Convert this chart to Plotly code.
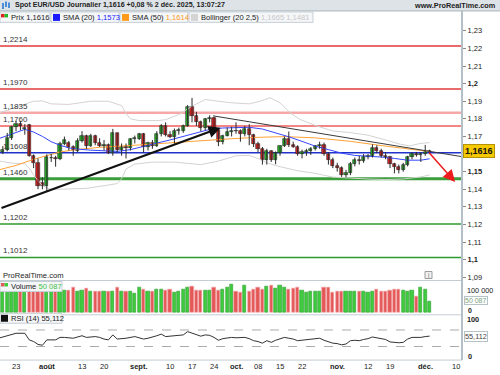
import plotly.graph_objects as go
import pandas as pd

# ---------------- data ----------------
opens = [1.1612,1.1626,1.1693,1.1752,1.1772,1.1745,1.1765,1.1588,1.1548,1.1435,
         1.1418,1.1575,1.1578,1.1572,1.1660,1.1665,1.1638,1.1620,1.1675,1.1705,
         1.1648,1.1703,1.1662,1.1648,1.1649,1.1607,1.1719,1.1622,1.1640,1.1632,
         1.1683,1.1686,1.1713,1.1642,1.1661,1.1648,1.1717,1.1761,1.1709,1.1696,
         1.1732,1.1733,1.1762,1.1868,1.1815,1.1785,1.1746,1.1801,1.1808,1.1736,
         1.1666,1.1702,1.1725,1.1734,1.1729,1.1716,1.1740,1.1710,1.1658,1.1628,
         1.1564,1.1617,1.1569,1.1608,1.1646,1.1688,1.1652,1.1643,1.1602,1.1610,
         1.1619,1.1630,1.1644,1.1652,1.1603,1.1566,1.1535,1.1520,1.1483,1.1492,
         1.1545,1.1565,1.1560,1.1581,1.1590,1.1633,1.1620,1.1592,1.1582,1.1542,
         1.1527,1.1512,1.1540,1.1583,1.1602,1.1597,1.1602,1.1610]
highs = [1.1645,1.1720,1.1760,1.1788,1.1789,1.1770,1.1771,1.1598,1.1575,1.1467,
         1.1598,1.1600,1.1590,1.1670,1.1699,1.1675,1.1650,1.1690,1.1730,1.1710,
         1.1715,1.1710,1.1690,1.1680,1.1660,1.1743,1.1720,1.1660,1.1660,1.1690,
         1.1705,1.1720,1.1720,1.1670,1.1680,1.1730,1.1770,1.1780,1.1730,1.1745,
         1.1750,1.1767,1.1878,1.1919,1.1840,1.1790,1.1805,1.1820,1.1812,1.1745,
         1.1710,1.1750,1.1755,1.1780,1.1740,1.1760,1.1770,1.1715,1.1670,1.1640,
         1.1630,1.1620,1.1615,1.1650,1.1700,1.1728,1.1670,1.1650,1.1625,1.1630,
         1.1640,1.1650,1.1670,1.1665,1.1610,1.1580,1.1550,1.1530,1.1510,1.1555,
         1.1580,1.1590,1.1600,1.1600,1.1655,1.1650,1.1630,1.1610,1.1590,1.1550,
         1.1540,1.1550,1.1590,1.1610,1.1612,1.1610,1.1652,1.1625]
lows = [1.1600,1.1615,1.1680,1.1730,1.1735,1.1710,1.1585,1.1520,1.1400,1.1400,
        1.1391,1.1555,1.1528,1.1565,1.1650,1.1620,1.1590,1.1610,1.1665,1.1630,
        1.1640,1.1650,1.1640,1.1620,1.1600,1.1590,1.1610,1.1590,1.1575,1.1620,
        1.1660,1.1680,1.1608,1.1620,1.1630,1.1640,1.1700,1.1700,1.1690,1.1660,
        1.1710,1.1720,1.1755,1.1780,1.1760,1.1730,1.1735,1.1780,1.1720,1.1645,
        1.1655,1.1700,1.1700,1.1715,1.1670,1.1700,1.1650,1.1640,1.1610,1.1540,
        1.1540,1.1555,1.1542,1.1590,1.1640,1.1640,1.1635,1.1590,1.1575,1.1590,
        1.1595,1.1620,1.1630,1.1590,1.1540,1.1520,1.1500,1.1470,1.1468,1.1480,
        1.1530,1.1540,1.1550,1.1570,1.1580,1.1605,1.1580,1.1570,1.1520,1.1490,
        1.1490,1.1500,1.1530,1.1570,1.1585,1.1555,1.1590,1.1600]
closes = [1.1626,1.1693,1.1752,1.1772,1.1760,1.1750,1.1590,1.1550,1.1420,1.1418,
          1.1582,1.1580,1.1572,1.1660,1.1680,1.1640,1.1622,1.1675,1.1705,1.1648,
          1.1703,1.1662,1.1648,1.1652,1.1607,1.1719,1.1622,1.1640,1.1632,1.1683,
          1.1690,1.1713,1.1642,1.1661,1.1648,1.1717,1.1761,1.1709,1.1696,1.1732,
          1.1736,1.1762,1.1868,1.1815,1.1785,1.1746,1.1801,1.1808,1.1736,1.1666,
          1.1702,1.1725,1.1734,1.1729,1.1716,1.1740,1.1710,1.1658,1.1628,1.1564,
          1.1617,1.1569,1.1608,1.1646,1.1688,1.1652,1.1643,1.1602,1.1610,1.1619,
          1.1630,1.1644,1.1652,1.1603,1.1566,1.1535,1.1520,1.1483,1.1492,1.1545,
          1.1565,1.1560,1.1581,1.1590,1.1633,1.1620,1.1592,1.1582,1.1542,1.1527,
          1.1512,1.1540,1.1583,1.1602,1.1597,1.1602,1.1610,1.1616]
volumes = [97000,94000,97000,109000,100000,94000,97000,100000,97000,100000,
           94000,113000,105000,108000,105000,102000,115000,100000,105000,110000,
           97000,100000,98000,100000,100000,100000,116000,100000,100000,97000,
           89000,117000,109000,100000,100000,109000,109000,105000,109000,94000,
           97000,109000,117000,120000,105000,102000,105000,102000,117000,105000,
           109000,117000,131000,100000,94000,125000,100000,109000,116000,109000,
           120000,125000,113000,125000,117000,109000,113000,117000,105000,94000,
           100000,100000,100000,117000,117000,94000,97000,100000,100000,97000,
           100000,100000,97000,94000,100000,109000,97000,100000,105000,109000,
           108000,105000,100000,102000,74000,117000,109000,50087]

sma20_k = [-3.64,0,2,4,6,8,10,12,14,17,20,23,26,29,32,35,38,41,44,47,50,53,56,59,62,65,68,71,74,77,80,83,86,89,92,94]
sma20_v = [1.1690,1.1725,1.1740,1.1725,1.1700,1.1670,1.1650,1.1635,1.1628,1.1622,1.1618,1.1615,1.1625,1.1645,
           1.1662,1.1680,1.1700,1.1720,1.1740,1.1748,1.1752,1.1752,1.1742,1.1722,1.1698,1.1672,1.1645,1.1625,
           1.1605,1.1592,1.1588,1.1583,1.1575,1.1565,1.1565,1.1573]
sma50_k = [-3.64,0,4,8,10,14,19,27,34,42,49,55,61,68,76,84,90,94]
sma50_v = [1.1512,1.1535,1.1570,1.1600,1.1612,1.1626,1.1638,1.1650,1.1663,1.1676,1.1687,1.1695,1.1699,
           1.1692,1.1672,1.1645,1.1624,1.1614]
bb_up_k = [-3.64,0,2,4,6,8,12,17,21,24,25,26,28,32,34,37,40,43,46,49,53,55.5,57.7,60,62.3,64.5,68.4,72,76,80,83.4,87.3,89.5,91.8,94]
bb_up_v = [1.1835,1.1865,1.1880,1.1900,1.1902,1.1885,1.1882,1.1900,1.1900,1.1875,1.1830,1.1800,1.1790,1.1790,
           1.1795,1.1825,1.1872,1.1910,1.1900,1.1891,1.1885,1.1900,1.1920,1.1891,1.1835,1.1797,1.1759,1.1731,
           1.1722,1.1707,1.1684,1.1656,1.1646,1.1660,1.1665]
bb_lo_k = [-3.64,-1,2,3,4,6,8,12,16,20,23,24,25,27,31,36,39,42,46,50,53,55,57,60,64,68,72,76,80,84,88,92,94]
bb_lo_v = [1.1560,1.1548,1.1545,1.1520,1.1480,1.1420,1.1398,1.1400,1.1405,1.1420,1.1432,1.1460,1.1515,1.1543,
           1.1554,1.1554,1.1545,1.1540,1.1560,1.1590,1.1592,1.1575,1.1550,1.1528,1.1505,1.1490,1.1469,1.1462,
           1.1458,1.1455,1.1458,1.1470,1.1481]
rsi_k = [-3.64,-1,0,2,3,4,5,6,7,9,10,11,13,15,16,18,19,20,21,22,23,25,27,29,30,32,33,34,36,38,39,40,41,42,43,44,45,
         46,47,48,49,50,52,53,54,55,56,57,58,59,60,61,62,63,64,65,66,67,68,69,70,71,72,73,74,75,76,77,78,79,80,81,
         82,83,84,85,86,87,88,89,90,91,92,93,94]
rsi_v = [51,58,62,62,46,42,35,33,46,46,52,52,50,56,52,54,52,48,46,58,48,50,54,48,50,56,60,54,56,58,66,62,58,55,58,57,52,
         45,49,51,52,51,52,49,44,42,38,44,40,45,48,52,50,48,44,45,46,47,49,50,45,41,38,37,34,36,44,45,44,47,49,53,
         51,48,47,41,40,39,40,48,52,52,52,54,55.112]

level_vals = [1.2214, 1.1970, 1.1835, 1.1760, 1.1608, 1.1460, 1.1202, 1.1012]
level_labels = ['1,2214', '1,1970', '1,1835', '1,1760', '1,1608', '1,1460', '1,1202', '1,1012']
level_colors = ['#e23a3a', '#e23a3a', '#f6a8a8', '#ef5c5c', '#2233cc', '#3a9e3a', '#2f9a2f', '#2f9a2f']
level_widths = [1.5, 1.5, 2.5, 1.5, 1.5, 3, 1.5, 1.5]

trend_up_k = [-3.64, 46.5]
trend_up_p = [1.1290, 1.1750]
trend_down_k = [44.8, 101.36]
trend_down_p = [1.1817, 1.1585]
target_k = [93.6, 99.8]
target_p = [1.1616, 1.1441]

price_ticks = [1.09,1.10,1.11,1.12,1.13,1.14,1.15,1.16,1.17,1.18,1.19,1.20,1.21,1.22,1.23]
price_tick_text = ['1,09','<b>1,1</b>','1,11','1,12','1,13','1,14','<b>1,15</b>','','1,17','1,18','1,19',
                   '<b>1,2</b>','1,21','1,22','1,23']

tick_dates = ['2025-07-23','2025-08-01','2025-08-13','2025-08-20','2025-09-01','2025-09-10','2025-09-17',
              '2025-09-24','2025-10-01','2025-10-08','2025-10-15','2025-10-22','2025-11-03','2025-11-12',
              '2025-11-19','2025-12-01','2025-12-10']
tick_labels = ['23','<b>août</b>','13','20','<b>sept.</b>','10','17','24','<b>oct.</b>','08','15','22',
               '<b>nov.</b>','12','19','<b>déc.</b>','10']

# ---------------- derived positions ----------------
bdays = pd.bdate_range('2025-07-18', '2025-12-12')
k_of = {d.strftime('%Y-%m-%d'): i - 3 for i, d in enumerate(bdays)}
days = [k_of[d.strftime('%Y-%m-%d')] for d in bdays[:len(closes)]]
tick_k = [k_of[d] for d in tick_dates]

FONT = 'Liberation Sans, Arial, sans-serif'
W, H = 500, 375
def px(x): return x / W
def py(y): return 1 - y / H
XR = 462 / W

up = [c >= o for o, c in zip(opens, closes)]
body_base = [min(o, c) for o, c in zip(opens, closes)]
body_h = [max(abs(c - o), 0.00006) for o, c in zip(opens, closes)]
body_col = ['#27b827' if u else '#e52222' for u in up]

wx, wy = [], []
for k, lo, hi in zip(days, lows, highs):
    wx += [k, k, None]
    wy += [lo, hi, None]

fig = go.Figure()

# bollinger + SMAs
fig.add_trace(go.Scatter(x=bb_up_k, y=bb_up_v, mode='lines', line=dict(color='#d2d2d2', width=1), yaxis='y', xaxis='x'))
fig.add_trace(go.Scatter(x=bb_lo_k, y=bb_lo_v, mode='lines', line=dict(color='#d2d2d2', width=1), yaxis='y', xaxis='x'))
fig.add_trace(go.Scatter(x=sma50_k, y=sma50_v, mode='lines', line=dict(color='#ffa238', width=1), yaxis='y', xaxis='x'))
fig.add_trace(go.Scatter(x=sma20_k, y=sma20_v, mode='lines', line=dict(color='#3646ff', width=1), yaxis='y', xaxis='x'))

# candles
fig.add_trace(go.Scatter(x=wx, y=wy, mode='lines', line=dict(color='#2a2a2a', width=1), yaxis='y', xaxis='x'))
fig.add_trace(go.Bar(x=days, y=body_h, base=body_base, width=0.72,
                     marker=dict(color=body_col, line=dict(color='#222222', width=0.6)), yaxis='y', xaxis='x'))

# volume
vol_col = ['#3fcc3f' if u else '#e45858' for u in up]
vol_line = ['#2c9a2c' if u else '#f0a0a0' for u in up]
fig.add_trace(go.Bar(x=days, y=volumes, width=0.72,
                     marker=dict(color=vol_col, line=dict(color=vol_line, width=0.6)), yaxis='y2', xaxis='x'))

# RSI
fig.add_trace(go.Scatter(x=rsi_k, y=rsi_v, mode='lines', line=dict(color='#333333', width=1), yaxis='y3', xaxis='x'))

shapes = []
# title bar
shapes.append(dict(type='rect', xref='paper', yref='paper', x0=0, x1=1, y0=py(11), y1=1,
                   fillcolor='#dde3e7', line=dict(width=0), layer='below'))
shapes.append(dict(type='line', xref='paper', yref='paper', x0=0, x1=1, y0=py(11), y1=py(11),
                   line=dict(color='#a9b4bc', width=1)))
# levels
for v, c, w in zip(level_vals, level_colors, level_widths):
    shapes.append(dict(type='line', xref='paper', yref='y', x0=0, x1=XR, y0=v, y1=v,
                       line=dict(color=c, width=w), layer='below'))
# descending trend
shapes.append(dict(type='line', xref='x', yref='y', x0=trend_down_k[0], x1=trend_down_k[1],
                   y0=trend_down_p[0], y1=trend_down_p[1], line=dict(color='#3a3a3a', width=1)))
# RSI dashed
for lv in (70, 30):
    shapes.append(dict(type='line', xref='paper', yref='y3', x0=0, x1=XR, y0=lv, y1=lv,
                       line=dict(color='#aaaaaa', width=1, dash='dash'), layer='below'))
# pane separators and right axis line
for yy in (282, 316.5, 362):
    shapes.append(dict(type='line', xref='paper', yref='paper', x0=0, x1=XR, y0=py(yy), y1=py(yy),
                       line=dict(color='#c3ccd3', width=1)))
shapes.append(dict(type='line', xref='paper', yref='paper', x0=XR, x1=XR, y0=py(362), y1=py(11),
                   line=dict(color='#b3c0c8', width=2)))

# legend boxes
def box(x0, x1, y0, y1):
    shapes.append(dict(type='rect', xref='paper', yref='paper', x0=px(x0), x1=px(x1), y0=py(y1), y1=py(y0),
                       fillcolor='#f4f6f8', line=dict(color='#c6cfd6', width=1)))
def sq(x0, y0, col, size=7):
    shapes.append(dict(type='rect', xref='paper', yref='paper', x0=px(x0), x1=px(x0 + size),
                       y0=py(y0 + size), y1=py(y0), fillcolor=col, line=dict(width=0)))
box(0, 50, 12, 22.5); box(51, 119, 12, 22.5); box(120, 188, 12, 22.5); box(189, 313, 12, 22.5)
sq(1, 14, '#e52222', 3.5); sq(4.5, 14, '#27b827', 3.5); sq(53, 14, '#1a1aff'); sq(122, 14, '#ff9a1a'); sq(191, 14, '#d4d4d4')
box(0, 62, 283, 293); sq(1, 284.5, '#e45858', 3.5); sq(4.5, 284.5, '#3fcc3f', 3.5)
box(0, 62, 315, 325); sq(1, 316.5, '#111111')
# title icon
for xi, y0, y1 in ((3, 3, 9), (6, 1.5, 7), (9, 2.5, 8)):
    shapes.append(dict(type='line', xref='paper', yref='paper', x0=px(xi), x1=px(xi), y0=py(y1), y1=py(y0),
                       line=dict(color='#4a8fd8', width=2)))
# info icon
shapes.append(dict(type='rect', xref='paper', yref='paper', x0=px(425), x1=px(432), y0=py(280), y1=py(273),
                   fillcolor='#f2f2f2', line=dict(color='#9a9a9a', width=1)))

ann = []
def txt(x, y, t, size=7.5, color='#222222', xanchor='left', yanchor='middle', **kw):
    ann.append(dict(xref='paper', yref='paper', x=px(x), y=py(y), text=t, showarrow=False,
                    xanchor=xanchor, yanchor=yanchor, font=dict(family=FONT, size=size, color=color), **kw))

txt(13, 5.5, '<b>Spot EUR/USD Journalier 1,1616 +0,08 % 2 déc. 2025, 13:07:27</b>', size=7.1)
txt(498, 5.5, '<b>www.ProRealTime.com</b>', size=7.3, xanchor='right')
txt(9, 17.5, 'Prix 1,1616', size=7.6)
txt(61, 17.5, "SMA (20) <span style='color:#1a1aff'>1,1573</span>", size=7.6)
txt(130, 17.5, "SMA (50) <span style='color:#ff9a1a'>1,1614</span>", size=7.6)
txt(199, 17.5, "Bollinger (20 2,5) <span style='color:#c8c8c8'>1,1665 1,1481</span>", size=7.6)
txt(9, 288.3, "Volume <span style='color:#3fbf3f'>50 087</span>", size=7.6)
txt(9, 320.3, 'RSI (14) 55,112', size=7.6)
txt(1, 277, 'ProRealTime.com', size=7.6)
txt(428.5, 276.5, 'i', size=6.5, color='#777777', xanchor='center')

# level labels
for v, lab in zip(level_vals, level_labels):
    ann.append(dict(xref='paper', yref='y', x=px(1), y=v, text=lab, showarrow=False, xanchor='left',
                    yanchor='bottom', yshift=0, font=dict(family=FONT, size=8, color='#333333')))

# date labels
for kk, lab in zip(tick_k, tick_labels):
    ann.append(dict(xref='x', yref='paper', x=kk, y=py(368.5), text=lab, showarrow=False, xanchor='center',
                    yanchor='middle', font=dict(family=FONT, size=7.5, color='#222222')))

# right labels volume / RSI
txt(465, 292.5, '100 000', size=7.3)
txt(466, 312, '<b>0</b>', size=7)
ann.append(dict(xref='paper', yref='y2', x=px(464), y=volumes[-1], text='50 087', showarrow=False, xanchor='left',
                yshift=1, font=dict(family=FONT, size=7, color='#7aa27a'), bgcolor='#ffffff', bordercolor='#b5c2c8',
                borderwidth=1, borderpad=0))
txt(465, 321.5, '<b>100</b>', size=7.3)
txt(466, 358, '<b>0</b>', size=7.3)
ann.append(dict(xref='paper', yref='y3', x=px(464), y=rsi_v[-1], text='55,112', showarrow=False, xanchor='left',
                font=dict(family=FONT, size=7.3, color='#444444'), bgcolor='#ffffff', bordercolor='#b5c2c8',
                borderwidth=1, borderpad=0))

# current price label
ann.append(dict(xref='paper', yref='y', x=px(463), y=closes[-1], text='<b>1,1616</b>', showarrow=False,
                xanchor='left', font=dict(family=FONT, size=9, color='#111111'), bgcolor='#f6c800',
                bordercolor='#b59200', borderwidth=1, borderpad=1))

# arrows
ann.append(dict(xref='x', yref='y', axref='x', ayref='y', x=trend_up_k[1], y=trend_up_p[1],
                ax=trend_up_k[0], ay=trend_up_p[0], text='', showarrow=True, arrowhead=2, arrowsize=1.1,
                arrowwidth=2.2, arrowcolor='#111111', standoff=0))
ann.append(dict(xref='x', yref='y', axref='x', ayref='y', x=target_k[1], y=target_p[1],
                ax=target_k[0], ay=target_p[0], text='', showarrow=True, arrowhead=2, arrowsize=1.6,
                arrowwidth=1.5, arrowcolor='#ee1c1c', standoff=0))

fig.update_layout(
    width=W, height=H, margin=dict(l=0, r=0, t=0, b=0),
    paper_bgcolor='white', plot_bgcolor='white', showlegend=False, hovermode=False,
    bargap=0, shapes=shapes, annotations=ann,
    font=dict(family=FONT, size=7.5, color='#222222'),
    xaxis=dict(domain=[0, XR], range=[-3.64, 101.36], anchor='y3', showticklabels=False,
               ticks='', showgrid=False, zeroline=False, showline=False),
    yaxis=dict(domain=[py(281), py(12)], range=[1.08869, 1.24076], side='right', anchor='x',
               tickvals=price_ticks, ticktext=price_tick_text, ticks='outside', ticklen=3, tickcolor='#888888',
               showgrid=False, zeroline=False, showline=False, tickfont=dict(family=FONT, size=7.5, color='#222222')),
    yaxis2=dict(domain=[py(316), py(284)], range=[-8000, 140000], side='right', anchor='x',
                showticklabels=False, showgrid=False, zeroline=False, showline=False),
    yaxis3=dict(domain=[py(362), py(317)], range=[-2.9, 105.5], side='right', anchor='x',
                showticklabels=False, showgrid=False, zeroline=False, showline=False),
)

fig.write_html('out.html', config={'displayModeBar': False},
               post_script="document.body.style.margin='0';document.body.style.overflow='hidden';")
